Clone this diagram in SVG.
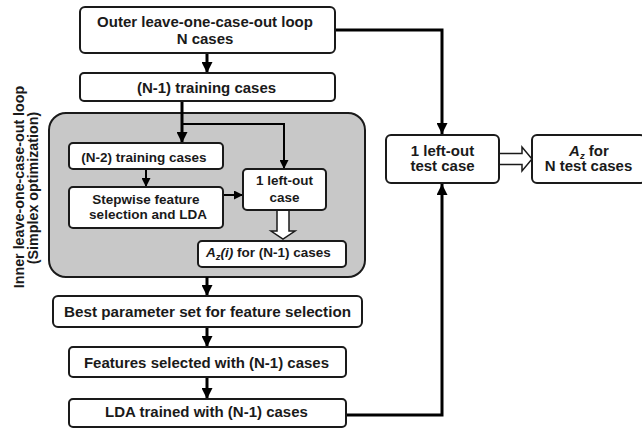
<svg xmlns="http://www.w3.org/2000/svg" width="642" height="431" viewBox="0 0 642 431">
<defs>
<style>
.box{fill:#fff;stroke:#1a1a1a;stroke-width:2}
.panel{fill:#c8c8c8;stroke:#1a1a1a;stroke-width:2}
text{font-family:"Liberation Sans",Arial,sans-serif;font-weight:bold;fill:#1a1a1a;text-anchor:middle}
.t15{font-size:15px}
.t13{font-size:13.5px}
.side{font-size:14.3px}
.it{font-style:italic}
.sub{font-style:italic;font-size:9.5px;baseline-shift:-3px}
.thick{fill:none;stroke:#000;stroke-width:3}
.thin{fill:none;stroke:#000;stroke-width:2}
.hollow{fill:#fff;stroke:#1a1a1a;stroke-width:1.5}
</style>
<marker id="ah" markerUnits="userSpaceOnUse" markerWidth="12" markerHeight="11" refX="11" refY="5.5" orient="auto"><path d="M0,0 L11,5.5 L0,11 z" fill="#000"/></marker>
<marker id="as" markerUnits="userSpaceOnUse" markerWidth="9" markerHeight="9" refX="9" refY="4.5" orient="auto"><path d="M0,0 L9,4.5 L0,9 z" fill="#000"/></marker>
</defs>
<rect width="642" height="431" fill="#fff"/>

<g id="inner-loop">
<rect class="panel" x="49" y="113" width="316" height="164" rx="17"/>
<text class="side" transform="translate(24,187) rotate(-90)">Inner leave-one-case-out loop</text>
<text class="side" transform="translate(37.5,188) rotate(-90)">(Simplex optimization)</text>
</g>

<g id="connectors">
<line class="thick" x1="207" y1="53" x2="207" y2="73" marker-end="url(#ah)"/>
<polyline class="thick" points="335,30 442,30 442,134" marker-end="url(#ah)"/>
<line class="thick" x1="182" y1="101" x2="182" y2="143" marker-end="url(#ah)"/>
<polyline class="thin" points="182,124 284,124 284,169" marker-end="url(#as)"/>
<line class="thin" x1="146" y1="169" x2="146" y2="187" marker-end="url(#as)"/>
<line class="thin" x1="223" y1="195" x2="243" y2="195" marker-end="url(#as)"/>
<polygon class="hollow" points="277,210 289,210 289,231 295,231 283,239 271,231 277,231"/>
<line class="thick" x1="207" y1="277" x2="207" y2="296" marker-end="url(#ah)"/>
<line class="thick" x1="207" y1="327" x2="207" y2="347" marker-end="url(#ah)"/>
<line class="thick" x1="207" y1="377" x2="207" y2="399" marker-end="url(#ah)"/>
<polyline class="thick" points="346,415 442,415 442,184" marker-end="url(#ah)"/>
<polygon class="hollow" points="499,153.5 522,153.5 522,147 532,159 522,171 522,164.5 499,164.5"/>
</g>

<g id="outer-loop">
<rect class="box" x="80" y="7" width="255" height="46" rx="5"/>
<text class="t15" x="205" y="27">Outer leave-one-case-out loop</text>
<text class="t15" x="205" y="44">N cases</text>
</g>

<g id="n1-training">
<rect class="box" x="80" y="73" width="255" height="28" rx="4"/>
<text class="t15" x="206.5" y="93">(N-1) training cases</text>
</g>

<g id="n2-training">
<rect class="box" x="69" y="143" width="154" height="26" rx="4"/>
<text class="t13" x="144" y="162">(N-2) training cases</text>
</g>

<g id="stepwise">
<rect class="box" x="69" y="187" width="154" height="41" rx="4"/>
<text class="t13" x="146" y="204">Stepwise feature</text>
<text class="t13" x="148" y="219">selection and LDA</text>
</g>

<g id="left-out-case">
<rect class="box" x="243" y="169" width="83" height="41" rx="4"/>
<text class="t13" x="284.5" y="185">1 left-out</text>
<text class="t13" x="284.5" y="202">case</text>
</g>

<g id="az-i">
<rect class="box" x="198" y="241" width="148" height="26" rx="4"/>
<text class="t13" x="268.5" y="257"><tspan class="it">A</tspan><tspan class="sub">z</tspan><tspan class="it">(i)</tspan> for (N-1) cases</text>
</g>

<g id="best-params">
<rect class="box" x="53" y="296" width="309" height="31" rx="5"/>
<text class="t15" x="207.5" y="317" textLength="287" lengthAdjust="spacingAndGlyphs">Best parameter set for feature selection</text>
</g>

<g id="features-selected">
<rect class="box" x="69" y="347" width="277" height="30" rx="4"/>
<text class="t15" x="206.5" y="368">Features selected with (N-1) cases</text>
</g>

<g id="lda-trained">
<rect class="box" x="69" y="399" width="277" height="28" rx="4"/>
<text class="t15" x="206.5" y="417">LDA trained with (N-1) cases</text>
</g>

<g id="test-case">
<rect class="box" x="386" y="135" width="113" height="48" rx="5"/>
<text class="t15" x="442.5" y="156">1 left-out</text>
<text class="t15" x="442.5" y="171">test case</text>
</g>

<g id="az-n">
<rect class="box" x="532" y="135" width="113" height="48" rx="5"/>
<text class="t15" x="589" y="156"><tspan class="it">A</tspan><tspan class="sub">z</tspan> for</text>
<text class="t15" x="588.5" y="171">N test cases</text>
</g>
</svg>
